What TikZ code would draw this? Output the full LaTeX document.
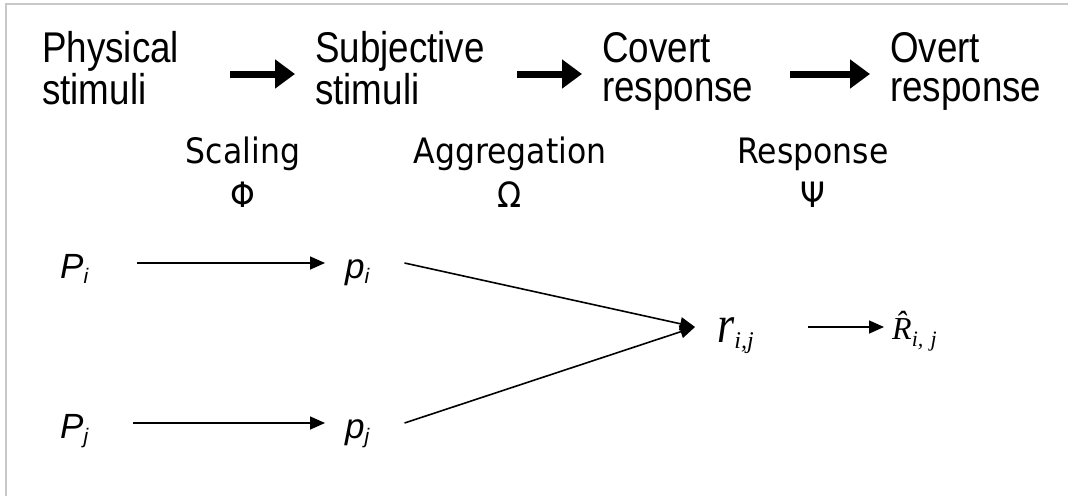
\documentclass[tikz,border=0pt]{standalone}
\usepackage{fontspec}
\setmainfont{Liberation Sans}
\newfontfamily\topfont{Liberation Sans}[FakeStretch=0.855]
\newfontfamily\tahfont{DejaVu Sans Condensed}
\newfontfamily\serffont{Liberation Serif}
\usetikzlibrary{arrows.meta}
\newcommand\subsc[2]{\raisebox{#1}{\fontsize{21}{21}\selectfont #2}}
\begin{document}
\begin{tikzpicture}[x=1pt,y=-1pt,
  frameline/.style={draw={rgb,255:red,200;green,200;blue,200},line width=2pt},
  toptext/.style={anchor=base west,inner sep=0pt,font=\topfont\fontsize{43}{39}\selectfont},
  bigarrow/.style={line width=7pt,-{Triangle[length=20pt,width=28pt]}},
  lab/.style={anchor=base,inner sep=0pt,font=\tahfont\fontsize{35}{44}\selectfont},
  var/.style={anchor=base west,inner sep=0pt,text height=30pt,text depth=0pt,font=\itshape\fontsize{35}{35}\selectfont},
  thinarrow/.style={line width=1.6pt,-{Triangle[length=15pt,width=13pt]}}]
\useasboundingbox (0,0) rectangle (1068,496);
\draw[frameline] (6,496) -- (6,3.5) -- (1068,3.5);
% top row
\node[toptext] (phys) at (42,62) {\begin{tabular}[t]{@{}l@{}}Physical\\stimuli\end{tabular}};
\node[toptext] (subj) at (315,62) {\begin{tabular}[t]{@{}l@{}}Subjective\\stimuli\end{tabular}};
\node[toptext] (cov) at (602,62) {\begin{tabular}[t]{@{}l@{}}Covert\\response\end{tabular}};
\node[toptext] (ovt) at (890,62) {\begin{tabular}[t]{@{}l@{}}Overt\\response\end{tabular}};
\coordinate (a1s) at (230,74); \coordinate (a1e) at (295,74);
\coordinate (a2s) at (517,74); \coordinate (a2e) at (582,74);
\coordinate (a3s) at (790,74); \coordinate (a3e) at (870,74);
\draw[bigarrow] (a1s) -- (a1e);
\draw[bigarrow] (a2s) -- (a2e);
\draw[bigarrow] (a3s) -- (a3e);
% labels
\node[lab] (scal) at (243,163) {\begin{tabular}[t]{@{}c@{}}Scaling\\Φ\end{tabular}};
\node[lab] (agg) at (510,163) {\begin{tabular}[t]{@{}c@{}}Aggregation\\Ω\end{tabular}};
\node[lab] (resp) at (813,163) {\begin{tabular}[t]{@{}c@{}}Response\\Ψ\end{tabular}};
% variables
\node[var] (Pi) at (60,278) {P\subsc{-5pt}{i}};
\node[var] (pi) at (345,278) {p\subsc{-5pt}{i}};
\node[var] (Pj) at (60,438) {P\subsc{-5pt}{j}};
\node[var] (pj) at (345,438) {p\subsc{-5pt}{j}};
\node[anchor=base west,inner sep=0pt,text height=30pt,text depth=0pt,font=\serffont\itshape\fontsize{44}{44}\selectfont] (r) at (717,342) {\scalebox{1}[1.2]{r}\raisebox{-6pt}{\fontsize{24}{24}\selectfont i,j}};
\node[anchor=base west,inner sep=0pt,text height=24pt,text depth=0pt,font=\serffont\itshape\fontsize{32}{32}\selectfont] (Rhat) at (892,339) {\^{R}\raisebox{-7pt}{\fontsize{22}{22}\selectfont i,\,\,j}};
% connectors
\draw[thinarrow] ([xshift=49pt]Pi.east) -- ([xshift=-20pt]pi.west);
\draw[thinarrow] ([xshift=45pt]Pj.east) -- ([xshift=-20pt]pj.west);
\draw[thinarrow] ([xshift=35pt]pi.east) -- ([xshift=-22pt]r.west);
\draw[thinarrow] ([xshift=35pt]pj.east) -- ([xshift=-22pt]r.west);
\draw[thinarrow] ([xshift=54pt]r.east) -- ([xshift=-8pt]Rhat.west);
\end{tikzpicture}
\end{document}
